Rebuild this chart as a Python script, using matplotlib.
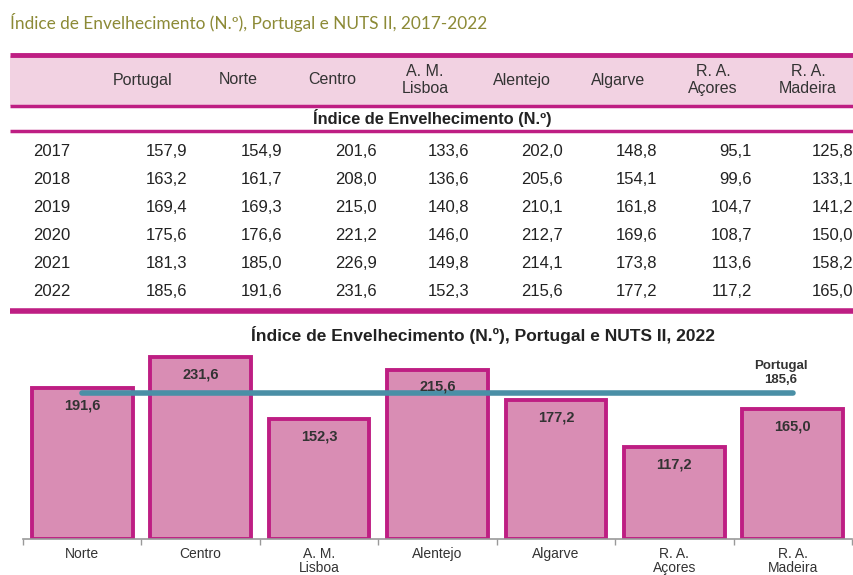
import matplotlib
matplotlib.use("Agg")
import matplotlib.pyplot as plt
from matplotlib.patches import Rectangle

years = [2017, 2018, 2019, 2020, 2021, 2022]
columns = ["Portugal", "Norte", "Centro", "A. M.\nLisboa", "Alentejo", "Algarve", "R. A.\nAçores", "R. A.\nMadeira"]
portugal = [157.9, 163.2, 169.4, 175.6, 181.3, 185.6]
norte = [154.9, 161.7, 169.3, 176.6, 185.0, 191.6]
centro = [201.6, 208.0, 215.0, 221.2, 226.9, 231.6]
lisboa = [133.6, 136.6, 140.8, 146.0, 149.8, 152.3]
alentejo = [202.0, 205.6, 210.1, 212.7, 214.1, 215.6]
algarve = [148.8, 154.1, 161.8, 169.6, 173.8, 177.2]
acores = [95.1, 99.6, 104.7, 108.7, 113.6, 117.2]
madeira = [125.8, 133.1, 141.2, 150.0, 158.2, 165.0]

regions = columns[1:]
series = [portugal, norte, centro, lisboa, alentejo, algarve, acores, madeira]
values_2022 = [s[-1] for s in series[1:]]
portugal_2022 = portugal[-1]

MAG = "#BE1E83"
PINK_HDR = "#F2D2E2"
BAR_FILL = "#D98DB4"
TXT = "#222222"

def fmt(v):
    return f"{v:.1f}".replace(".", ",")

plt.rcParams["font.family"] = ["Liberation Sans", "DejaVu Sans"]

fig = plt.figure(figsize=(8.54, 5.75), dpi=100)

# full-figure axes in pixel coords for the table
tab = fig.add_axes([0, 0, 1, 1])
tab.set_xlim(0, 854)
tab.set_ylim(575, 0)
tab.axis("off")

tab.text(10, 22, "Índice de Envelhecimento (N.º), Portugal e NUTS II, 2017-2022",
         family=["Lato", "DejaVu Sans"], fontsize=12.4, color="#8C8A36", va="center", ha="left")

tab.add_patch(Rectangle((10, 56), 844, 50, facecolor=PINK_HDR, edgecolor="none"))
tab.plot([10, 854], [55, 55], color=MAG, lw=3.5, solid_capstyle="butt")
tab.plot([10, 854], [106, 106], color=MAG, lw=2.5, solid_capstyle="butt")
tab.plot([10, 854], [131, 131], color=MAG, lw=2.5, solid_capstyle="butt")
tab.plot([10, 854], [311, 311], color=MAG, lw=4, solid_capstyle="butt")

hdr_x = [143, 238, 332, 425, 522, 618, 713, 808]
for x, c in zip(hdr_x, columns):
    tab.text(x, 80, c, ha="center", va="center", fontsize=11.5, color="#333333", linespacing=1.1)

tab.text(432, 118, "Índice de Envelhecimento (N.º)", ha="center", va="center",
         fontsize=11.8, fontweight="bold", color=TXT)

val_x = [187, 282, 377, 469, 563, 657, 752, 853]
row_y = [151, 179, 207, 235, 263, 292]
for i, (yr, y) in enumerate(zip(years, row_y)):
    tab.text(33, y, str(yr), ha="left", va="center", fontsize=12, color=TXT)
    for x, s in zip(val_x, series):
        tab.text(x, y, fmt(s[i]), ha="right", va="center", fontsize=12, color=TXT)

tab.text(483, 335, "Índice de Envelhecimento (N.º), Portugal e NUTS II, 2022",
         ha="center", va="center", fontsize=12.5, fontweight="bold", color=TXT)

# bar chart
ax = fig.add_axes([23 / 854, 36 / 575, 829 / 854, 196.5 / 575])
ax.set_xlim(-0.5, 6.5)
ax.set_ylim(0, 250)
xpos = list(range(len(regions)))
ax.bar(xpos, values_2022, width=0.85, color=BAR_FILL, edgecolor=MAG, linewidth=2.8, zorder=2)
for x, v in zip(xpos, values_2022):
    ax.text(x, v - 22, fmt(v), ha="center", va="center", fontsize=10.5,
            fontweight="bold", color="#333333", zorder=4)
ax.plot([xpos[0], xpos[-1]], [portugal_2022, portugal_2022], color="#4A8FA6",
        lw=4, solid_capstyle="round", zorder=3)
ax.text(xpos[-1] - 0.1, portugal_2022 + 9, "Portugal\n" + fmt(portugal_2022), ha="center", va="bottom",
        fontsize=9.5, fontweight="bold", color="#333333", linespacing=1.2)

ax.set_xticks([x + 0.5 for x in [-1] + xpos])
ax.set_xticklabels([])
ax.set_xticks(xpos, minor=True)
ax.set_xticklabels(regions, minor=True, fontsize=10, color="#333333", linespacing=1.0)
ax.tick_params(axis="x", which="major", length=4, color="#999999", width=1)
ax.tick_params(axis="x", which="minor", length=0, pad=6)
ax.set_yticks([])
for sp in ["top", "right", "left"]:
    ax.spines[sp].set_visible(False)
ax.spines["bottom"].set_color("#999999")
ax.spines["bottom"].set_linewidth(1.2)
ax.patch.set_alpha(0)

fig.savefig("out.png", dpi=100)
